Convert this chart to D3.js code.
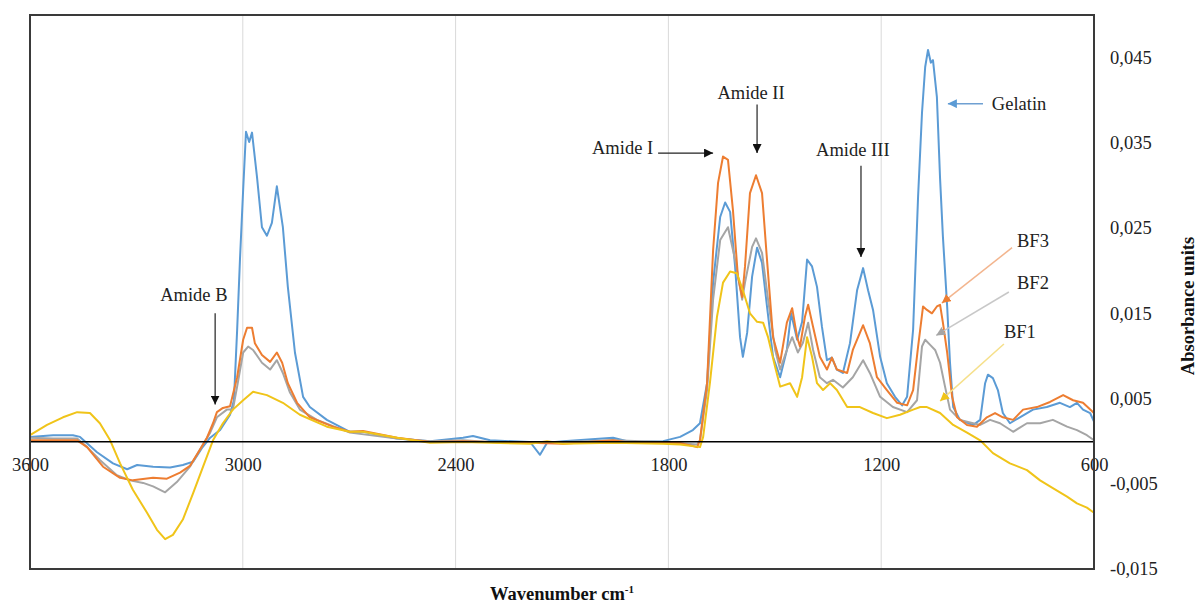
<!DOCTYPE html>
<html>
<head>
<meta charset="utf-8" />
<title>FTIR spectra: Gelatin, BF1, BF2, BF3</title>
<script src="https://cdn.jsdelivr.net/npm/d3@7"></script>
<style>
body { margin: 0; background: #fff; }
svg text { font-family: "Liberation Serif", "Times New Roman", serif; }
</style>
</head>
<body>
<svg id="chart" width="1197" height="603"></svg>
<script>
// spectra: [wavenumber cm-1, absorbance]
const gelatin = [[3600,0.0005],[3535,0.0007],[3479,0.0007],[3459,0.0005],[3411,-0.0013],[3366,-0.0026],[3326,-0.0033],[3298,-0.0028],[3253,-0.0030],[3205,-0.0031],[3169,-0.0028],[3140,-0.0024],[3115,-0.0008],[3092,0.0004],[3064,0.0013],[3036,0.0031],[3025,0.0048],[3016,0.0130],[3008,0.0213],[2999,0.0295],[2991,0.0363],[2982,0.0351],[2974,0.0362],[2960,0.0310],[2946,0.0251],[2932,0.0241],[2918,0.0256],[2904,0.0299],[2887,0.0251],[2873,0.0181],[2853,0.0104],[2830,0.0052],[2811,0.0040],[2763,0.0025],[2698,0.0011],[2661,0.0011],[2565,0.0003],[2472,0.0000],[2379,0.0004],[2351,0.0006],[2303,0.0001],[2190,-0.0001],[2162,-0.0016],[2142,-0.0002],[2097,0.0000],[1956,0.0004],[1908,-0.0001],[1815,0.0000],[1767,0.0005],[1731,0.0013],[1711,0.0021],[1691,0.0068],[1674,0.0186],[1654,0.0263],[1640,0.0280],[1626,0.0269],[1612,0.0205],[1598,0.0122],[1590,0.0099],[1578,0.0127],[1564,0.0193],[1550,0.0227],[1536,0.0209],[1522,0.0158],[1505,0.0099],[1485,0.0075],[1466,0.0107],[1454,0.0150],[1437,0.0119],[1423,0.0140],[1409,0.0213],[1395,0.0205],[1381,0.0181],[1367,0.0134],[1353,0.0095],[1339,0.0098],[1325,0.0084],[1308,0.0080],[1288,0.0115],[1268,0.0177],[1251,0.0203],[1237,0.0177],[1223,0.0154],[1203,0.0099],[1184,0.0068],[1161,0.0052],[1141,0.0042],[1127,0.0052],[1110,0.0131],[1096,0.0287],[1085,0.0385],[1076,0.0439],[1068,0.0459],[1060,0.0444],[1054,0.0447],[1043,0.0404],[1034,0.0308],[1026,0.0240],[1014,0.0158],[1006,0.0092],[997,0.0040],[978,0.0025],[941,0.0019],[921,0.0025],[907,0.0068],[899,0.0078],[885,0.0074],[871,0.0060],[857,0.0033],[837,0.0021],[809,0.0028],[772,0.0037],[733,0.0040],[696,0.0045],[668,0.0040],[648,0.0045],[631,0.0037],[611,0.0033],[600,0.0023]];

const bf3 = [[3600,0.0001],[3535,0.0001],[3467,0.0001],[3439,-0.0007],[3394,-0.0030],[3346,-0.0043],[3310,-0.0046],[3253,-0.0043],[3214,-0.0044],[3177,-0.0037],[3149,-0.0029],[3121,-0.0010],[3101,0.0004],[3084,0.0021],[3073,0.0034],[3056,0.0039],[3036,0.0041],[3016,0.0075],[2999,0.0119],[2988,0.0133],[2974,0.0133],[2966,0.0115],[2946,0.0101],[2923,0.0093],[2904,0.0104],[2889,0.0092],[2873,0.0068],[2847,0.0045],[2811,0.0028],[2746,0.0017],[2698,0.0011],[2661,0.0012],[2565,0.0004],[2472,-0.0001],[2379,0.0000],[2303,-0.0001],[2190,-0.0002],[2097,-0.0003],[1956,0.0001],[1908,-0.0002],[1815,-0.0002],[1767,-0.0002],[1719,-0.0007],[1711,0.0001],[1691,0.0068],[1674,0.0224],[1660,0.0303],[1646,0.0334],[1632,0.0330],[1618,0.0271],[1604,0.0193],[1592,0.0169],[1584,0.0205],[1570,0.0291],[1553,0.0312],[1536,0.0291],[1522,0.0213],[1505,0.0122],[1485,0.0092],[1466,0.0139],[1451,0.0156],[1437,0.0122],[1429,0.0111],[1415,0.0146],[1406,0.0160],[1392,0.0134],[1373,0.0099],[1353,0.0084],[1339,0.0098],[1325,0.0084],[1296,0.0080],[1280,0.0107],[1251,0.0136],[1232,0.0115],[1212,0.0075],[1184,0.0060],[1155,0.0045],[1127,0.0042],[1110,0.0060],[1096,0.0111],[1082,0.0158],[1071,0.0154],[1057,0.0150],[1043,0.0158],[1034,0.0160],[1026,0.0139],[1014,0.0104],[1000,0.0052],[986,0.0028],[958,0.0019],[930,0.0017],[902,0.0028],[879,0.0033],[857,0.0028],[828,0.0025],[800,0.0037],[761,0.0040],[724,0.0046],[687,0.0054],[659,0.0048],[631,0.0045],[600,0.0033]];

const bf2 = [[3600,0.0004],[3535,0.0003],[3467,0.0003],[3439,-0.0007],[3403,-0.0022],[3355,-0.0040],[3318,-0.0046],[3281,-0.0049],[3253,-0.0053],[3219,-0.0060],[3186,-0.0048],[3149,-0.0030],[3121,-0.0010],[3092,0.0010],[3073,0.0028],[3045,0.0037],[3028,0.0037],[3016,0.0064],[2999,0.0104],[2985,0.0111],[2971,0.0107],[2946,0.0092],[2923,0.0084],[2904,0.0095],[2887,0.0080],[2867,0.0057],[2839,0.0037],[2791,0.0025],[2698,0.0010],[2565,0.0003],[2472,0.0000],[2379,0.0001],[2303,-0.0001],[2190,-0.0002],[2097,-0.0001],[1956,0.0001],[1815,-0.0001],[1719,-0.0004],[1711,0.0001],[1691,0.0060],[1674,0.0166],[1654,0.0236],[1632,0.0251],[1612,0.0213],[1592,0.0166],[1584,0.0186],[1564,0.0228],[1553,0.0238],[1536,0.0221],[1519,0.0166],[1499,0.0107],[1485,0.0084],[1466,0.0107],[1451,0.0122],[1435,0.0104],[1421,0.0115],[1406,0.0139],[1392,0.0107],[1373,0.0075],[1353,0.0068],[1336,0.0072],[1308,0.0063],[1280,0.0075],[1251,0.0095],[1232,0.0080],[1203,0.0052],[1167,0.0040],[1127,0.0034],[1099,0.0048],[1085,0.0111],[1076,0.0119],[1062,0.0113],[1048,0.0107],[1034,0.0092],[1020,0.0064],[1006,0.0037],[978,0.0025],[921,0.0019],[893,0.0025],[865,0.0021],[828,0.0011],[789,0.0021],[752,0.0021],[716,0.0025],[676,0.0017],[648,0.0013],[620,0.0007],[600,0.0001]];

const bf1 = [[3600,0.0007],[3552,0.0019],[3507,0.0028],[3467,0.0034],[3431,0.0033],[3403,0.0021],[3374,0.0001],[3346,-0.0026],[3310,-0.0057],[3270,-0.0084],[3242,-0.0104],[3219,-0.0115],[3197,-0.0110],[3169,-0.0092],[3140,-0.0061],[3112,-0.0030],[3084,0.0001],[3056,0.0021],[3028,0.0037],[2999,0.0048],[2971,0.0058],[2932,0.0054],[2887,0.0045],[2839,0.0031],[2763,0.0017],[2698,0.0011],[2661,0.0011],[2565,0.0004],[2472,-0.0002],[2379,-0.0001],[2303,-0.0002],[2190,-0.0003],[2142,0.0000],[2097,-0.0003],[1956,-0.0002],[1815,-0.0003],[1767,-0.0004],[1711,-0.0007],[1702,0.0005],[1683,0.0068],[1663,0.0146],[1646,0.0186],[1626,0.0199],[1607,0.0197],[1590,0.0177],[1570,0.0150],[1550,0.0140],[1533,0.0139],[1519,0.0122],[1499,0.0087],[1485,0.0064],[1457,0.0068],[1437,0.0052],[1423,0.0075],[1409,0.0122],[1395,0.0099],[1381,0.0068],[1364,0.0060],[1344,0.0068],[1325,0.0060],[1296,0.0040],[1260,0.0040],[1223,0.0033],[1184,0.0027],[1147,0.0031],[1110,0.0037],[1090,0.0040],[1071,0.0040],[1034,0.0033],[997,0.0019],[958,0.0010],[921,0.0001],[885,-0.0014],[837,-0.0026],[789,-0.0034],[752,-0.0046],[716,-0.0055],[676,-0.0065],[648,-0.0073],[620,-0.0078],[600,-0.0084]];

const seriesNames = ["Gelatin", "BF2", "BF3", "BF1"];
const xTicks = [3600, 3000, 2400, 1800, 1200, 600];
const yTicks = [-0.015, -0.005, 0.005, 0.015, 0.025, 0.035, 0.045];
const xTitle = "Wavenumber cm";
const yTitle = "Absorbance units";

// peak callouts, placed in data coordinates
const notes = [
	{ text: "Amide B", tx: 3138, ty: 0.0165, anchor: "middle", from: [3078, 0.0150], to: [3078, 0.0043], kind: "black" },
	{ text: "Amide I", tx: 1843, ty: 0.0337, anchor: "end", from: [1829, 0.0338], to: [1674, 0.0338], kind: "black" },
	{ text: "Amide II", tx: 1567, ty: 0.0402, anchor: "middle", from: [1550, 0.0395], to: [1550, 0.0338], kind: "black" },
	{ text: "Amide III", tx: 1280, ty: 0.0334, anchor: "middle", from: [1257, 0.0323], to: [1257, 0.0216], kind: "black" },
	{ text: "Gelatin", tx: 888, ty: 0.0389, anchor: "start", from: [913, 0.0396], to: [1012, 0.0396], kind: "Gelatin" },
	{ text: "BF3", tx: 817, ty: 0.0228, anchor: "start", from: [831, 0.0227], to: [1029, 0.0162], kind: "BF3" },
	{ text: "BF2", tx: 817, ty: 0.0179, anchor: "start", from: [840, 0.0175], to: [1045, 0.0124], kind: "BF2" },
	{ text: "BF1", tx: 854, ty: 0.0121, anchor: "start", from: [854, 0.0114], to: [1034, 0.0047], kind: "BF1" }
];

const colors = { "Gelatin": "#5b9bd5", "BF3": "#ed7d31", "BF2": "#a5a5a5", "BF1": "#f0c419", "black": "#111" };
const leaderColors = { "Gelatin": "#6fa0d2", "BF3": "#f3b58e", "BF2": "#c8c8c8", "BF1": "#f6e08a", "black": "#222" };

const svg = d3.select("#chart");
const plotLeft = 30, plotRight = 1094, plotTop = 15, plotBottom = 569;

const x = d3.scaleLinear().domain([3600, 600]).range([plotLeft, plotRight]);
const y = d3.scaleLinear().domain([-0.015, 0.05]).range([plotBottom, plotTop]);

const locale = d3.formatLocale({ decimal: ",", thousands: ".", grouping: [3], currency: ["", ""], minus: "-" });
const fmt = locale.format(".3f");

// vertical gridlines
svg.append("g")
	.selectAll("line")
	.data(xTicks.slice(1, -1))
	.enter()
	.append("line")
		.attr("x1", d => x(d)).attr("x2", d => x(d))
		.attr("y1", plotTop).attr("y2", plotBottom)
		.attr("stroke", "#d9d9d9")
		.attr("stroke-width", 1);

// arrow markers
const defs = svg.append("defs");
Object.keys(colors).forEach(function (k) {
	defs.append("marker")
		.attr("id", "arrow-" + k)
		.attr("viewBox", "0 0 10 10")
		.attr("refX", 10).attr("refY", 5)
		.attr("markerUnits", "userSpaceOnUse")
		.attr("markerWidth", 9).attr("markerHeight", 9)
		.attr("orient", "auto")
		.append("path")
			.attr("d", "M0,0 L10,5 L0,10 Z")
			.attr("fill", colors[k]);
});

// spectra
const line = d3.line().x(d => x(d[0])).y(d => y(d[1]));
const spectra = { "Gelatin": gelatin, "BF2": bf2, "BF3": bf3, "BF1": bf1 };
svg.append("g")
	.selectAll("path")
	.data(seriesNames)
	.enter()
	.append("path")
		.attr("d", d => line(spectra[d]))
		.attr("fill", "none")
		.attr("stroke", d => colors[d])
		.attr("stroke-width", 2)
		.attr("stroke-linejoin", "round");

// zero line with wavenumber labels
const xAxis = svg.append("g")
	.attr("transform", "translate(0," + y(0) + ")")
	.call(d3.axisBottom(x).tickValues(xTicks).tickSize(0).tickPadding(17).tickFormat(d3.format("d")));
xAxis.select(".domain").attr("stroke", "#000").attr("stroke-width", 1.5);
xAxis.selectAll("text").attr("font-size", 18.5).attr("fill", "#222")
	.style("font-family", "'Liberation Serif', 'Times New Roman', serif");

// right-hand absorbance labels
const yAxis = svg.append("g")
	.attr("transform", "translate(" + plotRight + ",0)")
	.call(d3.axisRight(y).tickValues(yTicks).tickSize(0).tickPadding(16).tickFormat(fmt));
yAxis.select(".domain").remove();
yAxis.selectAll("text").attr("font-size", 18.5).attr("fill", "#222")
	.style("font-family", "'Liberation Serif', 'Times New Roman', serif");

// plot frame
svg.append("rect")
	.attr("x", plotLeft).attr("y", plotTop)
	.attr("width", plotRight - plotLeft).attr("height", plotBottom - plotTop)
	.attr("fill", "none")
	.attr("stroke", "#3a3a3a")
	.attr("stroke-width", 2);

// axis titles
const xt = svg.append("text")
	.attr("x", (plotLeft + plotRight) / 2)
	.attr("y", 600)
	.attr("text-anchor", "middle")
	.attr("font-size", 18.5)
	.attr("font-weight", "bold")
	.attr("fill", "#111")
	.text(xTitle);
xt.append("tspan").attr("font-size", 11).attr("dy", -7).text("-1");

svg.append("text")
	.attr("transform", "translate(1194," + ((plotTop + plotBottom) / 2 + 14) + ") rotate(-90)")
	.attr("text-anchor", "middle")
	.attr("font-size", 18.5)
	.attr("font-weight", "bold")
	.attr("fill", "#111")
	.text(yTitle);

// callouts
const g = svg.append("g");
g.selectAll("line")
	.data(notes)
	.enter()
	.append("line")
		.attr("x1", d => x(d.from[0])).attr("y1", d => y(d.from[1]))
		.attr("x2", d => x(d.to[0])).attr("y2", d => y(d.to[1]))
		.attr("stroke", d => leaderColors[d.kind])
		.attr("stroke-width", d => d.kind == "black" ? 1.2 : 1.5)
		.attr("marker-end", d => "url(#arrow-" + d.kind + ")");
g.selectAll("text")
	.data(notes)
	.enter()
	.append("text")
		.attr("x", d => x(d.tx)).attr("y", d => y(d.ty))
		.attr("text-anchor", d => d.anchor)
		.attr("font-size", 18.5)
		.attr("fill", "#222")
		.text(d => d.text);
</script>
</body>
</html>
